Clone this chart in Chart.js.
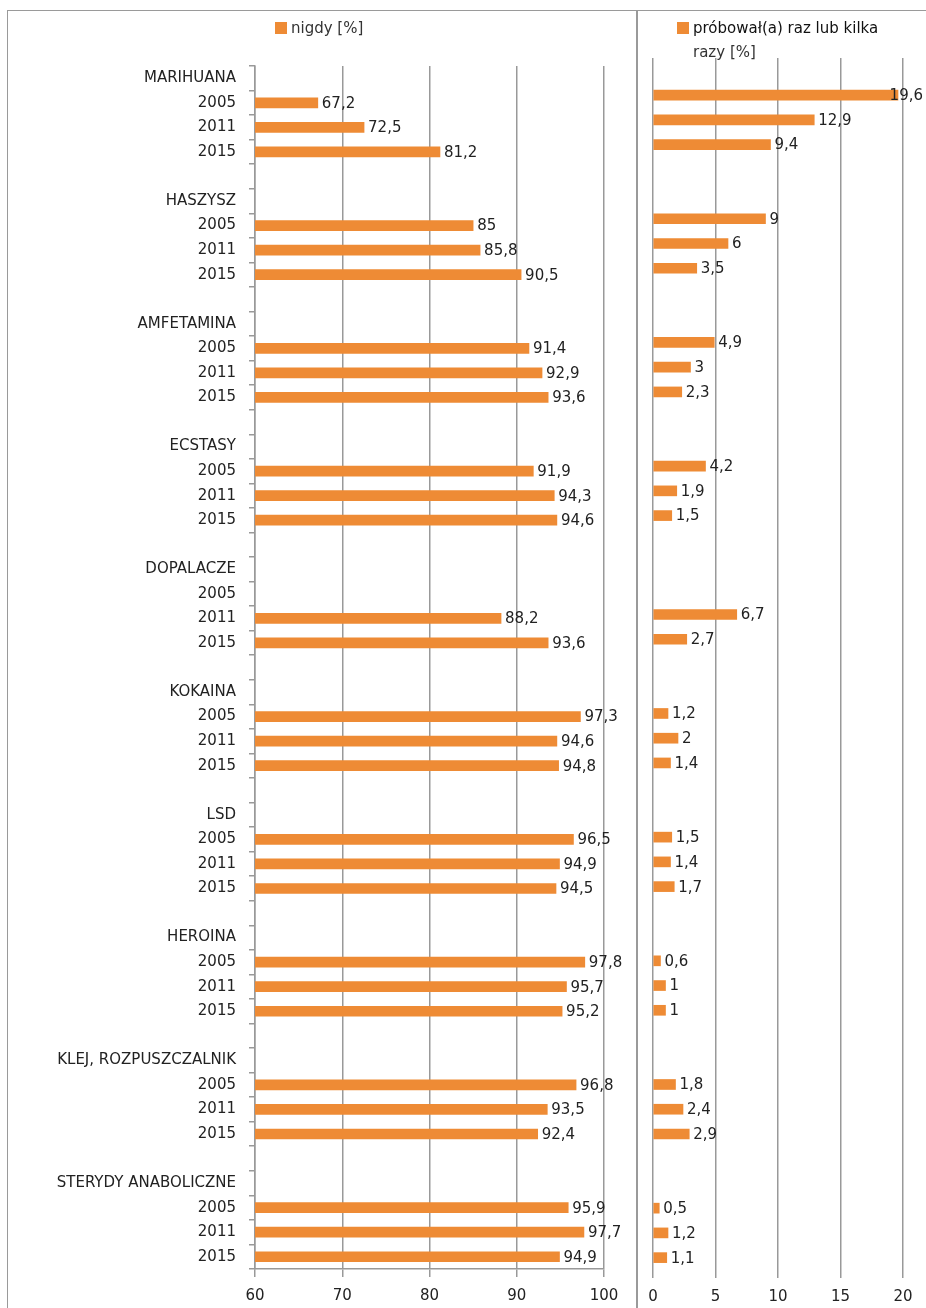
<!DOCTYPE html>
<html>
<head>
<meta charset="utf-8">
<script src="https://cdn.jsdelivr.net/npm/chart.js@4.4.1/dist/chart.umd.min.js"></script>
<style>
  body { margin: 0; background: #fff; width: 926px; height: 1308px; overflow: hidden; position: relative;
         font-family: "DejaVu Sans", sans-serif; color: #222; }
  #frame { position: absolute; left: 7px; top: 10px; width: 940px; height: 1320px; border: 1.5px solid #9a9a9a; }
  #sep { position: absolute; left: 636px; top: 10px; width: 0; height: 1300px; border-left: 2px solid #9a9a9a; }
  #left { position: absolute; left: 0; top: 10px; }
  #right { position: absolute; left: 638px; top: 10px; }
  .legend { position: absolute; font-size: 15px; line-height: 24px; color: #333; white-space: nowrap; }
  .legend i { display: inline-block; width: 12px; height: 12px; background: #ee8b35; margin-right: 4px; vertical-align: -1px; }
</style>
</head>
<body>
<div id="frame"></div>
<div id="sep"></div>
<canvas id="left" width="636" height="1298"></canvas>
<canvas id="right" width="288" height="1298"></canvas>
<div class="legend" style="left:275px;top:16px"><i></i>nigdy [%]</div>
<div class="legend" style="left:677px;top:16px;color:#111"><i></i>próbował(a) raz lub kilka<br><span style="padding-left:16px;color:#333">razy [%]</span></div>

<script>
// categories
const drugs = ["MARIHUANA", "HASZYSZ", "AMFETAMINA", "ECSTASY", "DOPALACZE", "KOKAINA", "LSD",
               "HEROINA", "KLEJ, ROZPUSZCZALNIK", "STERYDY ANABOLICZNE"];
const years = ["2005", "2011", "2015"];

// values per drug, in year order 2005, 2011, 2015
const nigdy = [
  67.2, 72.5, 81.2,
  85, 85.8, 90.5,
  91.4, 92.9, 93.6,
  91.9, 94.3, 94.6,
  null, 88.2, 93.6,
  97.3, 94.6, 94.8,
  96.5, 94.9, 94.5,
  97.8, 95.7, 95.2,
  96.8, 93.5, 92.4,
  95.9, 97.7, 94.9
];
const probowal = [
  19.6, 12.9, 9.4,
  9, 6, 3.5,
  4.9, 3, 2.3,
  4.2, 1.9, 1.5,
  null, 6.7, 2.7,
  1.2, 2, 1.4,
  1.5, 1.4, 1.7,
  0.6, 1, 1,
  1.8, 2.4, 2.9,
  0.5, 1.2, 1.1
];

// axis ticks
const leftTicks = [60, 70, 80, 90, 100];
const rightTicks = [0, 5, 10, 15, 20];

// rows: drug header, three years, blank spacer
const rowLabels = [];
const rowIndex = [];
drugs.forEach((d, di) => {
  rowLabels.push(d); rowIndex.push(-1);
  years.forEach((y, yi) => { rowLabels.push(y); rowIndex.push(di * 3 + yi); });
  if (di < drugs.length - 1) { rowLabels.push(""); rowIndex.push(-1); }
});
const rowsOf = arr => rowIndex.map(i => (i < 0 ? null : arr[i]));

const BAR = "#ee8b35";
const GRID = "#999";
const FONT = { family: "DejaVu Sans", size: 15 };

// value labels at bar end, decimal comma
const valueLabels = {
  id: "valueLabels",
  afterDatasetsDraw(chart) {
    const ctx = chart.ctx;
    const meta = chart.getDatasetMeta(0);
    const data = chart.data.datasets[0].data;
    ctx.save();
    ctx.font = '15px "DejaVu Sans"';
    ctx.fillStyle = "#222";
    ctx.textBaseline = "middle";
    meta.data.forEach((bar, i) => {
      const v = data[i];
      if (v == null) return;
      const txt = String(v).replace(".", ",");
      const w = ctx.measureText(txt).width;
      let x = bar.x + 4;
      if (x + w > chart.width - 3) x = chart.width - 3 - w;
      ctx.fillText(txt, x, bar.y + 1);
    });
    ctx.restore();
  }
};

function makeChart(id, values, min, max, ticks, opts) {
  return new Chart(document.getElementById(id), {
    type: "bar",
    data: {
      labels: rowLabels,
      datasets: [{ data: rowsOf(values), backgroundColor: BAR, barThickness: 10 }]
    },
    options: {
      indexAxis: "y",
      responsive: false,
      animation: false,
      layout: { padding: opts.padding },
      plugins: { legend: { display: false }, tooltip: { enabled: false } },
      scales: {
        x: {
          min, max,
          afterBuildTicks: s => { s.ticks = ticks.map(v => ({ value: v })); },
          afterFit: s => { s.height = opts.xHeight; },
          grid: { color: GRID, lineWidth: 1.5, tickLength: 8 },
          border: { display: opts.xBorder, color: GRID, width: 1.5 },
          ticks: { color: "#222", font: FONT, padding: 10 }
        },
        y: {
          display: opts.showY,
          afterFit: s => { s.width = opts.yWidth; },
          grid: { drawOnChartArea: false, color: GRID, lineWidth: 1.5, tickLength: 6 },
          border: { color: GRID, width: 1.5 },
          ticks: { color: "#222", font: FONT, autoSkip: false, padding: 13 }
        }
      }
    },
    plugins: [valueLabels]
  });
}

makeChart("left", nigdy, 60, 100, leftTicks,
  { padding: { top: 56, right: 32, left: 0, bottom: 0 }, xHeight: 39, yWidth: 255, showY: true, xBorder: true });
makeChart("right", probowal, 0, 20, rightTicks,
  { padding: { top: 48, right: 23, left: 15, bottom: 0 }, xHeight: 38, yWidth: 0, showY: false, xBorder: false });
</script>
</body>
</html>
